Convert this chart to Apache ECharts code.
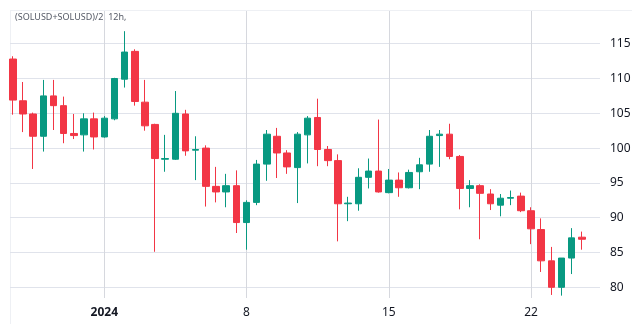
<!DOCTYPE html>
<html>
<head>
<meta charset="utf-8">
<script src="https://cdn.jsdelivr.net/npm/echarts@6/dist/echarts.min.js"></script>
<style>
  html, body { margin: 0; padding: 0; background: #ffffff; }
  #chart { width: 639px; height: 324px; }
</style>
</head>
<body>
<div id="chart"></div>
<script>
// (SOLUSD+SOLUSD)/2, 12-hour bars
const seriesName = '(SOLUSD+SOLUSD)/2, 12h,';
const firstBarUtc = Date.UTC(2023, 11, 27, 12); // first bar opens 2023-12-27 12:00
const barHours = 12;

const opens = [
  112.8, 106.8, 104.9, 101.7, 107.5, 106.1, 102.1, 101.9, 104.2, 101.6,
  104.2, 109.9, 113.9, 106.6, 103.4, 98.4, 98.4, 104.9, 99.7, 100.0,
  94.5, 93.7, 94.6, 89.3, 92.2, 97.7, 101.7, 99.3, 97.2, 101.9,
  104.4, 99.8, 98.2, 92.0, 92.0, 95.8, 96.7, 93.6, 95.4, 94.3,
  96.6, 97.7, 101.8, 102.0, 98.8, 94.2, 94.6, 93.4, 91.8, 92.8,
  93.1, 91.0, 88.3, 83.8, 80.0, 84.2, 87.2
];
const highs = [
  113.2, 109.5, 105.1, 109.8, 109.8, 107.4, 104.9, 105.0, 105.1, 104.6,
  110.1, 116.8, 114.2, 109.8, 103.5, 101.9, 108.2, 105.5, 101.7, 100.4,
  97.3, 96.3, 96.8, 92.5, 98.3, 102.6, 102.9, 99.7, 102.3, 104.6,
  107.1, 100.3, 99.1, 93.0, 97.1, 98.5, 104.1, 97.0, 96.5, 96.9,
  98.6, 102.6, 102.6, 103.5, 99.0, 95.4, 94.8, 94.1, 93.4, 93.9,
  93.6, 91.5, 89.9, 85.8, 84.2, 88.5, 88.0
];
const lows = [
  104.8, 102.3, 97.0, 99.5, 102.6, 100.7, 101.3, 99.5, 99.8, 101.5,
  104.0, 108.7, 106.1, 102.5, 85.1, 96.6, 98.3, 98.9, 95.4, 91.6,
  92.2, 91.5, 87.8, 85.4, 91.8, 95.3, 95.7, 96.3, 92.1, 97.8,
  97.4, 97.4, 86.6, 89.5, 91.0, 94.2, 93.6, 93.5, 93.0, 94.2,
  94.1, 96.6, 97.3, 98.4, 91.2, 91.5, 86.9, 91.1, 90.2, 91.8,
  90.8, 86.2, 82.2, 78.9, 78.8, 81.9, 85.4
];
const closes = [
  106.9, 104.9, 101.7, 107.5, 106.1, 102.1, 101.8, 104.2, 101.6, 104.3,
  110.0, 113.8, 106.7, 103.2, 98.5, 98.5, 105.0, 99.6, 99.8, 94.5,
  93.7, 94.6, 89.3, 92.2, 97.7, 102.0, 99.3, 97.3, 102.0, 104.3,
  99.8, 98.2, 92.0, 92.1, 95.8, 96.7, 93.7, 95.4, 94.3, 96.5,
  97.6, 101.7, 102.0, 98.8, 94.2, 94.6, 93.5, 92.0, 92.8, 92.9,
  91.0, 88.4, 83.8, 80.0, 84.2, 87.1, 86.9
];

const priceTicks = [80, 85, 90, 95, 100, 105, 110, 115];
const dayTicks = ['2024-01-01 00:00', '2024-01-08 00:00', '2024-01-15 00:00', '2024-01-22 00:00'];
const dayTickLabels = ['2024', '8', '15', '22'];

const UP = '#089981';
const DOWN = '#F23645';

function pad(n) { return String(n).padStart(2, '0'); }
const barTimes = opens.map((_, i) => {
  const d = new Date(firstBarUtc + i * barHours * 3600 * 1000);
  return d.getUTCFullYear() + '-' + pad(d.getUTCMonth() + 1) + '-' + pad(d.getUTCDate()) +
    ' ' + pad(d.getUTCHours()) + ':' + pad(d.getUTCMinutes());
});
const dayTickIndex = dayTicks.map(t => barTimes.indexOf(t));

// [bar index, open, close, low, high]
const candles = opens.map((o, i) => [i, o, closes[i], lows[i], highs[i]]);

const chart = echarts.init(document.getElementById('chart'), null, { renderer: 'canvas' });

const font = '"Noto Sans", "Open Sans", sans-serif';

chart.setOption({
  animation: false,
  backgroundColor: '#ffffff',
  textStyle: { fontFamily: font },
  graphic: [
    { type: 'line', silent: true, shape: { x1: 10, y1: 10.5, x2: 632, y2: 10.5 },
      style: { stroke: '#eef0f4', lineWidth: 1 } },
    { type: 'line', silent: true, shape: { x1: 10.5, y1: 10, x2: 10.5, y2: 324 },
      style: { stroke: '#eef0f4', lineWidth: 1 } },
    { type: 'text', silent: true, left: 15, top: 13,
      style: { text: seriesName, fill: '#555a66', font: '9px ' + font } }
  ],
  grid: { left: 10, right: 39, top: 11, bottom: 26, containLabel: false },
  xAxis: {
    type: 'value',
    min: -0.28,
    max: 57.79,
    axisLine: { show: false },
    axisTick: { show: false, customValues: dayTickIndex },
    splitLine: { show: true, lineStyle: { color: '#d6d8de', width: 1 } },
    axisLabel: {
      customValues: dayTickIndex,
      margin: 9,
      fontSize: 12,
      color: '#131722',
      fontFamily: font,
      formatter: function (v) {
        const k = dayTickIndex.indexOf(v);
        if (k < 0) return '';
        return k === 0 ? '{b|' + dayTickLabels[k] + '}' : dayTickLabels[k];
      },
      rich: { b: { fontWeight: 'bold', fontSize: 12, color: '#131722', fontFamily: font } }
    }
  },
  yAxis: {
    type: 'value',
    position: 'right',
    min: 78.46,
    max: 119.7,
    scale: true,
    axisLine: { show: false },
    axisTick: { show: false, customValues: priceTicks },
    splitLine: { show: true, lineStyle: { color: '#e0e3eb', width: 1 } },
    axisLabel: {
      customValues: priceTicks,
      margin: 10,
      fontSize: 12,
      color: '#131722',
      fontFamily: font
    }
  },
  series: [{
    type: 'candlestick',
    name: seriesName,
    data: candles,
    encode: { x: 0, y: [1, 2, 3, 4] },
    barWidth: 7,
    itemStyle: {
      color: UP,
      color0: DOWN,
      borderColor: UP,
      borderColor0: DOWN,
      borderWidth: 1
    }
  }]
});
</script>
</body>
</html>
